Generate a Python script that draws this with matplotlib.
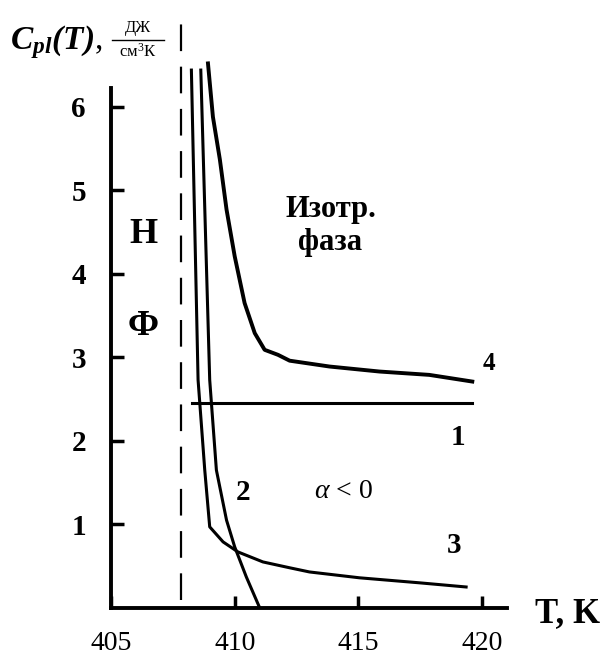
import numpy as np
import matplotlib.pyplot as plt
from matplotlib.lines import Line2D

plt.rcParams['font.family'] = ['Liberation Serif', 'DejaVu Serif']
plt.rcParams['mathtext.fontset'] = 'custom'
plt.rcParams['mathtext.rm'] = 'Liberation Serif'
plt.rcParams['mathtext.it'] = 'Liberation Serif:italic'
plt.rcParams['mathtext.bf'] = 'Liberation Serif:bold'
plt.rcParams['mathtext.bfit'] = 'Liberation Serif:bold:italic'

# curves (T in K, C_pl in J/(cm^3 K))
line1_T = [408.27, 419.6]
line1_C = [2.455, 2.455]

curve2_T = [408.63, 408.99, 409.26, 409.67, 410.0, 410.47, 411.01]
curve2_C = [6.44, 2.73, 1.65, 1.05, 0.73, 0.37, 0.0]

curve3_T = [408.25, 408.52, 408.79, 408.99, 409.53, 410.13, 411.14, 412.22, 413.02, 415.04, 417.46, 419.35]
curve3_C = [6.44, 2.73, 1.65, 0.97, 0.79, 0.67, 0.55, 0.48, 0.43, 0.36, 0.30, 0.25]

curve4_T = [408.92, 409.12, 409.40, 409.67, 410.0, 410.40, 410.81, 411.21, 411.75, 412.22, 413.83, 415.85, 417.86, 419.6]
curve4_C = [6.52, 5.88, 5.37, 4.77, 4.21, 3.65, 3.29, 3.09, 3.03, 2.96, 2.89, 2.83, 2.79, 2.71]

T_c = 407.82          # dashed boundary
x_ticks = [405, 410, 415, 420]
y_ticks = [1, 2, 3, 4, 5, 6]

fig = plt.figure(figsize=(6.13, 6.6), dpi=100)
ax = fig.add_axes([0.181, 0.079, 0.646, 0.892])

ax.plot(line1_T, line1_C, 'k-', lw=2.2)
ax.plot(curve2_T, curve2_C, 'k-', lw=2.2)
ax.plot(curve3_T, curve3_C, 'k-', lw=2.2)
ax.plot(curve4_T, curve4_C, 'k-', lw=2.8)
ax.plot([T_c, T_c], [0.1, 7.0], 'k--', lw=1.6, dashes=(12, 7), clip_on=False)

ax.set_xlim(405, 421)
ax.set_ylim(0, 7.05)
ax.spines['top'].set_visible(False)
ax.spines['right'].set_visible(False)
ax.spines['left'].set_bounds(0, 6.23)
ax.spines['left'].set_linewidth(2.8)
ax.spines['bottom'].set_linewidth(2.8)

ax.set_xticks(x_ticks)
ax.set_yticks(y_ticks)
ax.tick_params(axis='both', direction='in', length=9, width=2.5)
ax.tick_params(axis='x', labelsize=20, pad=17)
ax.tick_params(axis='y', labelsize=21, pad=18)
for lab in ax.get_yticklabels():
    lab.set_fontweight('bold')

# annotations
ax.text(420.28, 2.93, '4', fontsize=18, fontweight='bold', ha='center', va='center')
ax.text(419.0, 2.04, '1', fontsize=21, fontweight='bold', ha='center', va='center')
ax.text(418.87, 0.75, '3', fontsize=21, fontweight='bold', ha='center', va='center')
ax.text(410.32, 1.38, '2', fontsize=21, fontweight='bold', ha='center', va='center')
ax.text(414.4, 1.39, r'$\alpha$ < 0', fontsize=20, ha='center', va='center')
ax.text(413.87, 4.57, 'Изотр.\nфаза', fontsize=22, fontweight='bold',
        ha='center', va='center', linespacing=1.2)
ax.text(406.3, 4.47, 'Н', fontsize=26, fontweight='bold', ha='center', va='center')
ax.text(406.3, 3.37, 'Ф', fontsize=26, fontweight='bold', ha='center', va='center')

fig.text(0.872, 0.071, 'T, K', fontsize=25, fontweight='bold', ha='left', va='center')

# y-axis caption with a small fraction for the units
fig.text(0.016, 0.937, r'$\mathbfit{C_{pl}(T)},$', fontsize=24, ha='left', va='center')
fig.text(0.225, 0.957, 'ДЖ', fontsize=12, ha='center', va='center')
fig.text(0.225, 0.922, 'см$^3$К', fontsize=12, ha='center', va='center')
fig.add_artist(Line2D([0.183, 0.268], [0.94, 0.94], color='k', lw=1.0,
                      transform=fig.transFigure))

fig.savefig('out.png', dpi=100)
